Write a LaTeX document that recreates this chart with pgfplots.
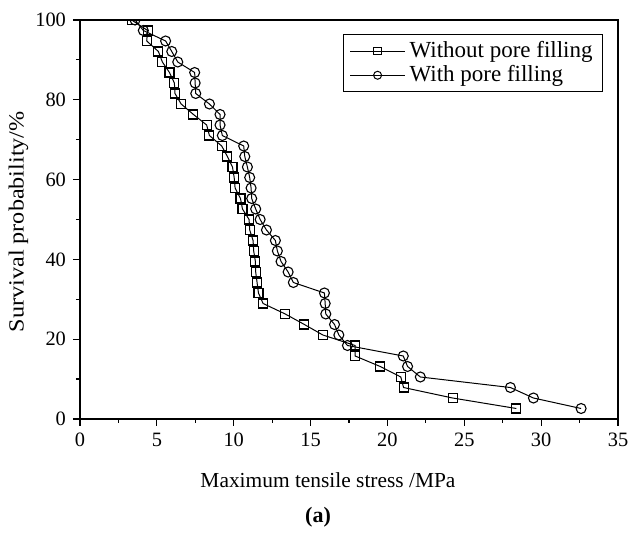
\documentclass[border=0pt]{standalone}
\usepackage{pgfplots}
\pgfplotsset{compat=1.18}
\usepackage{pgfplotstable}
\usepackage{graphicx}
\usepackage{fontspec}
\setmainfont{Liberation Serif}

% Survival probability (%) against maximum tensile stress (MPa), 38 specimens per group
\pgfplotstableread{
x      y
28.39  2.63
24.24  5.26
21.05  7.89
20.87  10.53
19.53  13.16
17.90  15.79
17.90  18.42
15.80  21.05
14.60  23.68
13.35  26.32
11.91  28.95
11.61  31.58
11.52  34.21
11.43  36.84
11.41  39.47
11.30  42.11
11.26  44.74
11.04  47.37
11.00  50.00
10.57  52.63
10.44  55.26
10.09  57.89
10.03  60.53
9.92   63.16
9.59   65.79
9.22   68.42
8.42   71.05
8.24   73.68
7.38   76.32
6.58   78.95
6.18   81.58
6.14   84.21
5.82   86.84
5.36   89.47
5.10   92.11
4.34   94.74
4.40   97.37
3.36   100.00
}\withoutfill

\pgfplotstableread{
x      y
32.60  2.63
29.50  5.26
28.00  7.89
22.14  10.53
21.31  13.16
21.03  15.79
17.40  18.42
16.84  21.05
16.56  23.68
15.99  26.32
15.95  28.95
15.90  31.58
13.88  34.21
13.54  36.84
13.08  39.47
12.84  42.11
12.71  44.74
12.13  47.37
11.72  50.00
11.43  52.63
11.17  55.26
11.13  57.89
11.04  60.53
10.89  63.16
10.72  65.79
10.65  68.42
9.26   71.05
9.11   73.68
9.11   76.32
8.42   78.95
7.53   81.58
7.49   84.21
7.46   86.84
6.36   89.47
5.97   92.11
5.57   94.74
4.12   97.37
3.58   100.00
}\withfill

\begin{document}
\begin{tikzpicture}
\path[use as bounding box] (-40pt,-58.5pt) rectangle (274pt,209.5pt);
\begin{axis}[
  at={(0,0)}, anchor=south west,
  scale only axis,
  width=269pt, height=199.5pt,
  xmin=0, xmax=35, ymin=0, ymax=100,
  xtick={0,5,...,35}, ytick={0,20,...,100},
  minor xtick={2.5,7.5,...,32.5}, minor ytick={10,30,...,90},
  xtick pos=bottom, ytick pos=left,
  tick align=outside,
  major tick length=3.5pt, minor tick length=2pt,
  every tick/.style={black, line width=0.6pt},
  axis line style={line width=0.8pt},
  /pgf/number format/assume math mode=true,
  tick label style={font=\fontsize{10.2}{12}\selectfont},
  clip marker paths=true,
  legend style={at={(0.489,0.965)}, anchor=north west,
    draw=black, line width=0.5pt,
    font=\fontsize{11.5}{13}\selectfont,
    row sep=-1.5pt, inner xsep=3pt, inner ysep=1.5pt},
  legend cell align=left,
  legend image code/.code={%
    \draw[mark repeat=2, mark phase=2, mark options={scale=0.8}]
      plot coordinates {(0pt,0pt) (13.75pt,0pt) (27.5pt,0pt)};},
]
\addplot[black, line width=0.5pt, mark=square, mark size=2.25pt,
  mark options={fill=white, line width=0.55pt}] table[x=x, y=y] {\withoutfill};
\addlegendentry{Without pore filling}
\addplot[black, line width=0.5pt, mark=o, mark size=2.5pt,
  mark options={fill=white, line width=0.55pt}] table[x=x, y=y] {\withfill};
\addlegendentry{With pore filling}
\end{axis}
\node[anchor=base, font=\fontsize{10.7}{13}\selectfont] at (124pt,-34.5pt) {Maximum tensile stress /MPa};
\node[rotate=90, font=\fontsize{10.8}{13}\selectfont] at (-30.75pt,98.65pt) {\scalebox{1.12}[1]{Survival probability/\%}};
\node[anchor=base, font=\bfseries\fontsize{11}{13}\selectfont] at (119pt,-52pt) {(a)};
\end{tikzpicture}
\end{document}
